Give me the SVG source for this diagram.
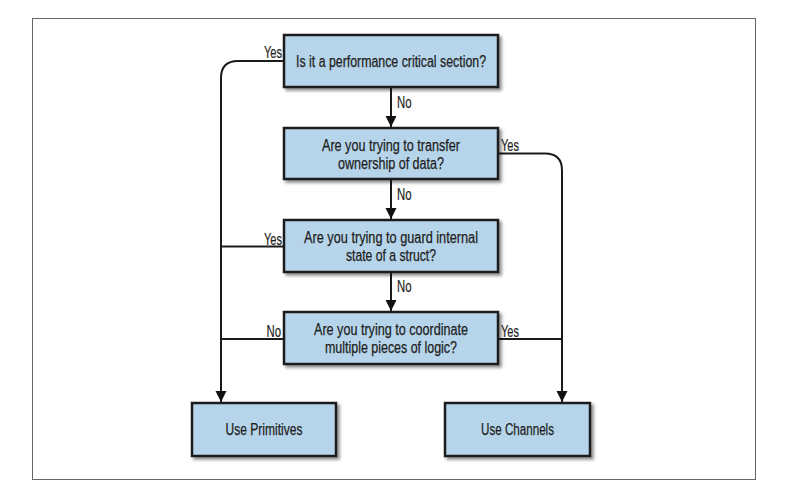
<svg xmlns="http://www.w3.org/2000/svg" width="792" height="490" viewBox="0 0 792 490">
<defs>
<filter id="sh" x="-10%" y="-10%" width="130%" height="140%">
<feDropShadow dx="2.5" dy="2.5" stdDeviation="1.5" flood-color="#000" flood-opacity="0.45"/>
</filter>
<marker id="arr" markerUnits="userSpaceOnUse" markerWidth="12" markerHeight="12" refX="11" refY="6" orient="auto">
<path d="M0,0.5 L11,6 L0,11.5 Z" fill="#111"/>
</marker>
<style>
.box{fill:#b6d5ea;stroke:#1a1a1a;stroke-width:2.5;filter:url(#sh)}
.t{font-family:"Liberation Sans",Arial,sans-serif;font-size:16px;fill:#1e1e1e;text-anchor:middle;stroke:#1e1e1e;stroke-width:0.25}
.l{font-family:"Liberation Sans",Arial,sans-serif;font-size:16px;fill:#1e1e1e;stroke:#1e1e1e;stroke-width:0.2}
.c{fill:none;stroke:#1a1a1a;stroke-width:2}
</style>
</defs>
<rect x="0" y="0" width="792" height="490" fill="#fff"/>
<rect x="32.5" y="18.5" width="723" height="461" fill="none" stroke="#666" stroke-width="1"/>

<g id="connectors">
<path class="c" d="M284,61 H238 Q221,61 221,78 V402" marker-end="url(#arr)"/>
<path class="c" d="M391,87 V127" marker-end="url(#arr)"/>
<path class="c" d="M498,153.5 H545 Q562,153.5 562,170.5 V402" marker-end="url(#arr)"/>
<path class="c" d="M391,179 V219" marker-end="url(#arr)"/>
<path class="c" d="M284,246.5 H221"/>
<path class="c" d="M391,272 V311" marker-end="url(#arr)"/>
<path class="c" d="M284,339 H221"/>
<path class="c" d="M498,339 H562"/>
<text class="l" x="282" y="58" text-anchor="end" textLength="18" lengthAdjust="spacingAndGlyphs">Yes</text>
<text class="l" x="397" y="107.5" textLength="14.5" lengthAdjust="spacingAndGlyphs">No</text>
<text class="l" x="501" y="151" textLength="18" lengthAdjust="spacingAndGlyphs">Yes</text>
<text class="l" x="397" y="200" textLength="14.5" lengthAdjust="spacingAndGlyphs">No</text>
<text class="l" x="282" y="245" text-anchor="end" textLength="18" lengthAdjust="spacingAndGlyphs">Yes</text>
<text class="l" x="397" y="292" textLength="14.5" lengthAdjust="spacingAndGlyphs">No</text>
<text class="l" x="281" y="337" text-anchor="end" textLength="14.5" lengthAdjust="spacingAndGlyphs">No</text>
<text class="l" x="501" y="337" textLength="18" lengthAdjust="spacingAndGlyphs">Yes</text>
</g>

<g id="q1">
<rect class="box" x="284" y="35" width="214" height="52"/>
<text class="t" x="391" y="67" textLength="190" lengthAdjust="spacingAndGlyphs">Is it a performance critical section?</text>
</g>
<g id="q2">
<rect class="box" x="284" y="128" width="214" height="51"/>
<text class="t" x="391" y="150.5" textLength="138" lengthAdjust="spacingAndGlyphs">Are you trying to transfer</text>
<text class="t" x="391" y="168.5" textLength="106" lengthAdjust="spacingAndGlyphs">ownership of data?</text>
</g>
<g id="q3">
<rect class="box" x="284" y="220" width="214" height="52"/>
<text class="t" x="391" y="242.5" textLength="174" lengthAdjust="spacingAndGlyphs">Are you trying to guard internal</text>
<text class="t" x="391" y="260.5" textLength="90" lengthAdjust="spacingAndGlyphs">state of a struct?</text>
</g>
<g id="q4">
<rect class="box" x="284" y="312" width="214" height="52"/>
<text class="t" x="391" y="334.5" textLength="154" lengthAdjust="spacingAndGlyphs">Are you trying to coordinate</text>
<text class="t" x="391" y="352.5" textLength="132" lengthAdjust="spacingAndGlyphs">multiple pieces of logic?</text>
</g>
<g id="primitives">
<rect class="box" x="192" y="403" width="144" height="53"/>
<text class="t" x="264" y="435" textLength="77" lengthAdjust="spacingAndGlyphs">Use Primitives</text>
</g>
<g id="channels">
<rect class="box" x="445" y="403" width="145" height="53"/>
<text class="t" x="517.5" y="435" textLength="73" lengthAdjust="spacingAndGlyphs">Use Channels</text>
</g>
</svg>
